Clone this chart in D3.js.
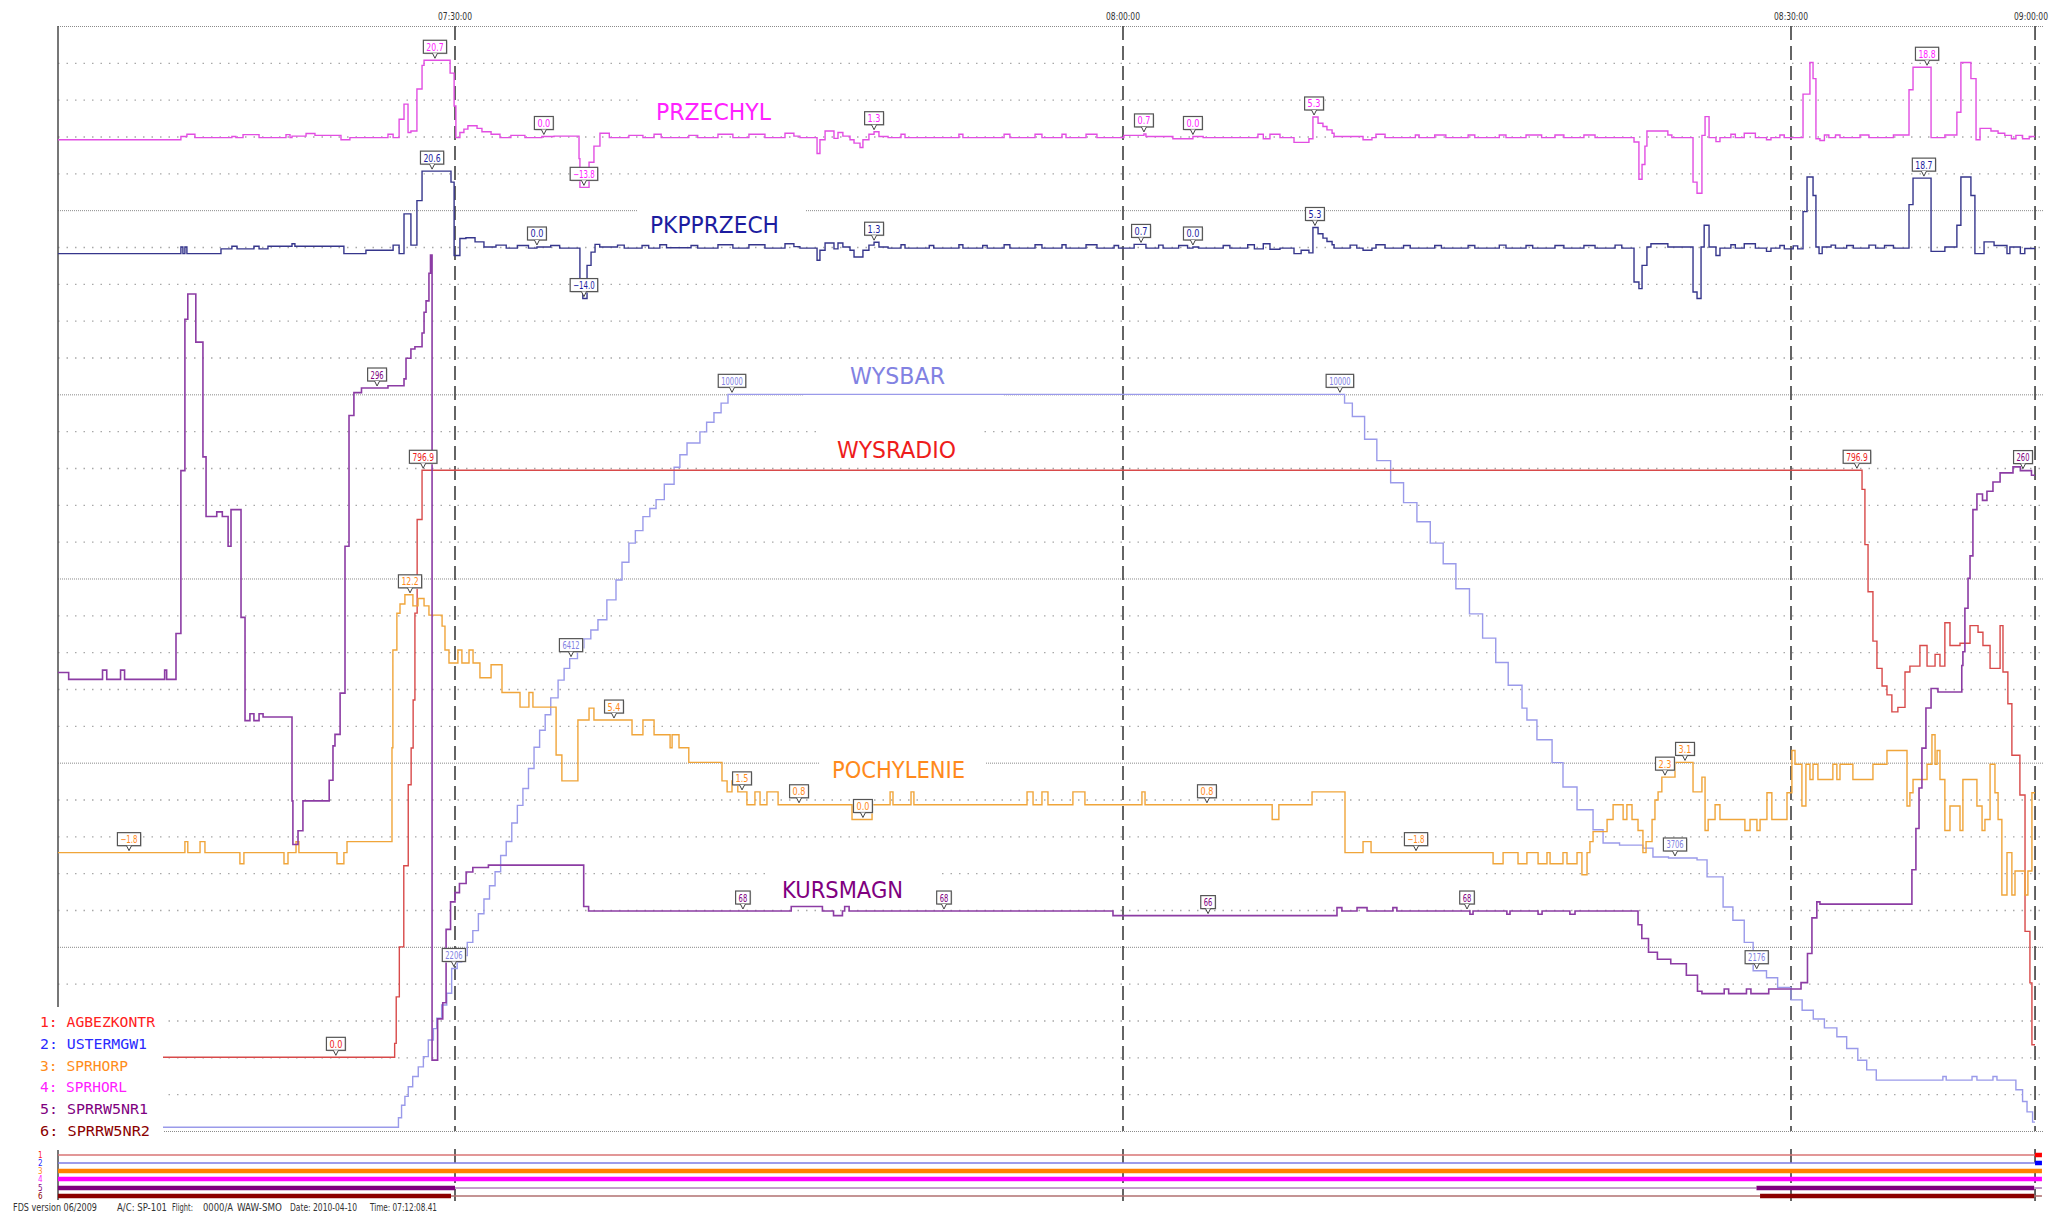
<!DOCTYPE html>
<html><head><meta charset="utf-8">
<script src="https://cdn.jsdelivr.net/npm/d3@7"></script>
<style>
html,body{margin:0;padding:0;background:#fff;}
svg{display:block;}
</style></head>
<body><svg id="chart" width="2057" height="1216"></svg>
<script>
// Times are minutes after 07:00:00; values are in each parameter's own unit.
const timeTicks = [30, 60, 90, 100.96];
const timeTickLabels = ["07:30:00", "08:00:00", "08:30:00", "09:00:00"];
const tStart = 12.17, tEnd = 100.96;

// PRZECHYL – roll angle [deg]
const przechyl = [
[12.17,-0.9],[17.69,0.0],[17.96,0.6],[18.32,-0.3],[19.98,0.0],[20.16,-0.3],[20.48,0.5],[21.20,-0.3],[22.41,0.5],[22.59,-0.3],[22.68,0.1],[23.31,0.8],[23.71,0.3],[24.88,-0.9],[25.28,-0.3],[26.99,0.6],[27.22,-0.3],[27.49,4.7],[27.71,8.8],[27.89,1.1],[28.02,1.5],[28.29,12.9],[28.52,19.3],[28.61,20.7],[29.78,17.2],[29.96,8.3],[30.04,-0.3],[30.22,1.1],[30.40,2.0],[30.58,2.9],[30.99,2.2],[31.21,1.3],[31.62,0.6],[32.02,-0.3],[32.51,0.3],[33.14,-0.3],[33.9,0.0],[34.45,0.1],[35.57,-6.0],[35.61,-13.8],[36.02,-7.0],[36.24,-2.6],[36.51,0.9],[36.93,-0.3],[37.81,0.3],[38.44,-0.3],[38.94,0.6],[39.26,-0.3],[40.5,0.3],[40.9,-0.3],[41.81,0.6],[42.48,-0.3],[43.20,0.6],[43.92,-0.3],[44.82,0.9],[45.22,0.1],[45.49,-0.3],[46.26,-4.6],[46.39,-0.9],[46.62,1.5],[47.02,-0.5],[47.20,1.1],[47.42,0.1],[47.74,-0.9],[47.92,-1.8],[48.19,-3.0],[48.32,-0.9],[48.59,0.6],[48.82,1.3],[49.04,0.0],[49.45,-0.3],[50.03,0.6],[50.21,-0.3],[52.63,0.6],[52.81,-0.3],[54.66,0.6],[54.92,-0.3],[56.05,0.6],[56.36,-0.3],[57.26,0.6],[57.44,-0.3],[58.34,0.6],[58.83,-0.3],[60.04,0.3],[60.94,0.7],[61.03,0.0],[62.24,-0.6],[63.14,0.0],[63.6,-0.3],[66.06,0.6],[66.3,-0.6],[66.6,0.6],[67.05,-0.3],[67.68,-1.6],[68.35,-0.6],[68.53,5.3],[68.76,3.6],[68.98,2.7],[69.16,1.8],[69.39,0.9],[69.48,0.0],[70.78,-0.9],[71.18,-0.3],[71.36,0.6],[71.77,-0.3],[73.13,0.4],[73.3,-0.3],[74.0,0.4],[74.5,-0.3],[75.5,0.4],[75.8,-0.3],[76.9,0.4],[77.2,-0.3],[78.1,0.4],[78.8,-0.3],[79.4,0.4],[79.8,-0.3],[80.7,0.4],[81.2,-0.3],[82.95,-1.5],[83.17,-11.6],[83.31,-7.6],[83.44,-2.6],[83.53,1.5],[84.47,0.4],[84.65,-0.3],[85.60,-12.4],[85.78,-15.4],[86.00,0.3],[86.14,5.4],[86.32,-0.3],[86.63,-1.4],[86.81,-0.3],[87.3,0.6],[87.5,-0.3],[87.9,0.9],[88.4,-0.3],[88.9,-0.9],[89.1,-0.3],[89.5,0.4],[89.7,-0.3],[90.54,11.5],[90.85,20.1],[90.99,15.7],[91.12,-0.6],[91.3,-1.1],[91.5,0.4],[91.7,-0.3],[92.0,0.4],[92.2,-0.3],[93.1,0.4],[93.5,-0.3],[94.6,0.4],[95.30,12.7],[95.48,18.8],[96.29,-0.3],[96.91,0.4],[97.45,6.6],[97.63,20.1],[98.08,15.7],[98.31,-0.9],[98.49,2.2],[98.98,1.5],[99.3,0.9],[99.6,0.3],[99.9,-0.6],[100.1,0.3],[100.4,-0.6],[100.7,0.0]
];
const przechylMarks = [[29.10,20.7],[33.99,0.0],[35.79,-13.8],[48.82,1.3],[60.94,0.7],[63.14,0.0],[68.58,5.3],[96.11,18.8]];

// PKPPRZECH – roll angle, second source [deg]
const pkpprzech = [
[12.17,-1.8],[17.69,0.0],[17.78,-1.8],[17.87,0.0],[17.96,-1.8],[19.49,-0.5],[19.98,0.2],[20.21,-0.5],[20.97,0.2],[21.20,-0.5],[21.60,0.2],[22.68,0.9],[22.81,0.2],[25.01,-1.8],[26.0,-0.9],[27.22,0.5],[27.49,-1.8],[27.71,9.0],[28.02,0.5],[28.29,12.6],[28.52,20.6],[29.82,17.6],[29.96,-2.3],[30.22,2.3],[30.49,2.5],[30.90,1.4],[31.30,0.0],[31.84,0.5],[32.3,-0.3],[32.8,0.4],[33.3,-0.3],[33.68,0.0],[34.3,0.4],[34.7,-0.3],[35.61,-11.3],[35.74,-14.0],[35.93,-5.0],[36.11,-1.4],[36.29,0.7],[36.5,0.0],[37.3,0.5],[37.6,-0.3],[38.4,0.4],[38.7,-0.3],[39.2,0.6],[39.5,-0.2],[40.6,0.4],[40.9,-0.3],[41.81,0.6],[42.48,-0.3],[43.20,0.6],[43.92,-0.3],[44.82,0.9],[45.22,0.1],[45.49,-0.3],[46.26,-3.6],[46.39,-0.9],[46.62,1.1],[47.02,-0.5],[47.20,1.1],[47.42,0.0],[47.74,-0.9],[47.92,-2.7],[48.32,-0.9],[48.59,0.5],[48.82,1.3],[49.04,0.0],[49.45,-0.3],[50.03,0.6],[50.21,-0.3],[51.3,0.4],[51.5,-0.3],[52.63,0.6],[52.81,-0.3],[53.7,0.4],[53.9,-0.3],[54.66,0.6],[54.92,-0.3],[56.05,0.6],[56.36,-0.3],[57.26,0.6],[57.44,-0.3],[58.34,0.6],[58.83,-0.3],[59.6,0.4],[59.8,-0.3],[60.5,0.7],[61.03,-0.3],[61.6,0.5],[61.8,-0.3],[62.5,0.4],[62.9,-0.3],[63.14,0.0],[63.4,-0.3],[64.5,0.4],[64.8,-0.3],[65.6,0.6],[65.9,-0.5],[66.3,0.9],[66.6,-0.6],[67.05,-0.3],[67.68,-1.8],[68.0,-0.9],[68.35,-1.6],[68.53,5.3],[68.76,3.6],[68.98,2.4],[69.16,1.5],[69.39,0.6],[69.48,-0.3],[70.2,0.5],[70.5,-0.3],[70.78,-0.9],[71.18,-0.3],[71.36,0.6],[71.77,-0.3],[72.6,0.4],[72.9,-0.3],[74.0,0.4],[74.3,-0.3],[75.5,0.4],[75.8,-0.3],[76.9,0.5],[77.2,-0.3],[78.1,0.4],[78.4,-0.3],[79.4,0.4],[79.8,-0.3],[80.7,0.4],[81.2,-0.3],[82.1,0.5],[82.4,-0.3],[82.95,-9.5],[83.17,-11.3],[83.31,-5.0],[83.53,0.0],[83.71,0.9],[84.47,0.0],[85.60,-12.2],[85.78,-14.0],[85.96,0.0],[86.10,5.9],[86.32,0.0],[86.63,-2.3],[86.81,-0.3],[87.3,0.6],[87.5,-0.3],[87.9,0.9],[88.4,-0.3],[88.9,-1.2],[89.1,-0.3],[89.5,0.4],[89.7,-0.5],[90.1,0.3],[90.3,-0.5],[90.54,9.6],[90.72,19.0],[90.99,14.0],[91.12,0.0],[91.26,-1.8],[91.4,0.0],[91.8,0.5],[92.0,-0.3],[92.5,0.4],[92.8,-0.3],[93.5,0.5],[93.8,-0.3],[94.2,0.4],[94.6,-0.3],[95.30,11.5],[95.48,18.7],[96.29,-1.2],[96.91,0.0],[97.45,5.9],[97.63,19.0],[98.08,14.0],[98.26,-1.8],[98.67,1.4],[99.12,0.4],[99.70,-1.8],[99.83,0.0],[100.3,-1.8],[100.5,-0.4]
];
const pkpprzechMarks = [[28.97,20.6],[33.68,0.0],[35.79,-14.0],[48.82,1.3],[60.81,0.7],[63.14,0.0],[68.62,5.3],[95.97,18.7]];

// WYSBAR – barometric altitude
const wysbar = [
[12.17,50],[27.46,180],[27.6,350],[27.75,470],[27.9,600],[28.1,740],[28.35,870],[28.58,1010],[28.8,1235],[29.03,1390],[29.18,1530],[29.4,1710],[29.63,1870],[29.85,2206],[30.1,2290],[30.3,2380],[30.55,2560],[30.8,2720],[31.05,2950],[31.3,3150],[31.55,3330],[31.8,3520],[32.05,3740],[32.3,3930],[32.55,4180],[32.8,4420],[33.05,4650],[33.3,4920],[33.55,5210],[33.8,5440],[34.05,5650],[34.3,5880],[34.63,6120],[34.9,6280],[35.15,6412],[35.5,6560],[35.79,6680],[36.1,6800],[36.42,6940],[36.82,7210],[37.23,7480],[37.5,7720],[37.81,7980],[38.1,8150],[38.44,8340],[38.75,8450],[39.03,8570],[39.4,8780],[39.84,9010],[40.1,9180],[40.42,9340],[41.0,9490],[41.3,9620],[41.63,9750],[41.95,9880],[42.26,10000],[69.95,9880],[70.3,9700],[70.85,9390],[71.4,9100],[72.02,8800],[72.6,8530],[73.2,8270],[73.8,7980],[74.38,7700],[74.95,7360],[75.56,7020],[76.15,6690],[76.74,6360],[77.3,6050],[77.92,5740],[78.14,5580],[78.59,5310],[79.27,5000],[79.76,4670],[80.39,4360],[81.11,4090],[81.56,3910],[82.3,3880],[83.35,3840],[83.8,3720],[84.5,3706],[85.78,3680],[86.23,3450],[86.95,3040],[87.39,2860],[87.9,2560],[88.3,2176],[88.9,2080],[89.4,1950],[90.0,1780],[90.5,1640],[91.0,1520],[91.5,1400],[92.06,1280],[92.5,1120],[93.0,960],[93.4,830],[93.83,690],[96.82,740],[96.97,690],[98.13,740],[98.35,690],[99.07,740],[99.25,690],[100.1,560],[100.4,400],[100.6,260],[100.85,120]
];
const wysbarMarks = [[29.95,2206],[35.21,6412],[42.44,10000],[69.74,10000],[84.79,3706],[88.46,2176]];

// WYSRADIO – radio altitude
const wysradio = [
[12.17,0],[27.29,19],[27.36,82],[27.5,150],[27.7,260],[27.9,370],[28.03,420],[28.12,485],[28.2,603],[28.3,730],[28.52,796.9],[93.19,771],[93.32,696],[93.46,632],[93.68,565],[93.86,528],[94.09,504],[94.31,492],[94.53,469],[94.80,475],[95.12,523],[95.34,531],[95.79,559],[96.11,531],[96.47,547],[96.69,531],[96.91,590],[97.14,559],[97.59,562],[98.04,586],[98.40,577],[98.62,559],[98.94,528],[99.39,586],[99.52,523],[99.74,480],[99.92,410],[100.28,356],[100.51,171],[100.73,101],[100.82,17]
];
const wysradioMarks = [[24.65,0.0],[28.57,796.9],[92.96,796.9]];

// POCHYLENIE – pitch angle [deg]
const pochylenie = [
[12.17,-1.8],[17.87,-1.2],[18.0,-1.8],[18.55,-1.2],[18.77,-1.8],[20.34,-2.4],[20.52,-1.8],[22.32,-2.4],[22.50,-1.8],[22.86,-1.2],[22.99,-1.8],[24.70,-2.4],[25.01,-1.8],[25.15,-1.2],[27.17,3.9],[27.21,9.2],[27.39,11.2],[27.53,11.7],[27.75,12.2],[28.11,11.6],[28.34,12.0],[28.61,11.6],[28.83,11.1],[29.42,10.5],[29.55,9.2],[29.73,8.5],[30.13,9.2],[30.31,8.5],[30.63,9.2],[30.81,8.5],[31.12,7.7],[31.62,8.4],[32.11,6.9],[32.92,6.1],[33.32,6.9],[33.50,6.1],[34.54,3.5],[34.8,2.1],[35.52,5.4],[36.02,6.05],[36.24,5.4],[37.95,4.6],[38.44,5.4],[38.94,4.6],[39.66,3.9],[39.75,4.6],[40.06,3.9],[40.5,3.1],[41.99,2.1],[42.22,1.5],[42.44,2.1],[42.7,1.5],[43.11,0.8],[43.47,1.5],[43.70,0.8],[44.01,1.5],[44.51,0.8],[47.83,0.0],[48.73,0.8],[49.54,1.5],[49.67,0.8],[50.48,1.5],[50.61,0.8],[55.69,1.5],[55.96,0.8],[56.36,1.5],[56.63,0.8],[57.75,1.5],[58.29,0.8],[60.85,1.5],[60.99,0.8],[66.7,0.0],[67.0,0.8],[68.49,1.5],[69.97,-1.8],[70.78,-1.2],[71.14,-1.8],[76.62,-2.4],[77.07,-1.8],[77.74,-2.4],[78.14,-1.8],[78.64,-2.4],[79.04,-1.8],[79.18,-2.4],[79.76,-1.8],[79.94,-2.4],[80.39,-1.8],[80.61,-3.0],[80.84,-1.8],[80.97,-1.2],[81.11,-0.66],[81.74,0.0],[82.01,0.8],[82.46,0.0],[82.63,0.8],[82.86,0.0],[83.13,-0.6],[83.35,-1.8],[83.49,-1.2],[83.76,0.0],[83.89,1.06],[84.03,1.5],[84.20,2.3],[84.79,3.1],[85.60,1.5],[86.00,2.3],[86.14,-0.6],[86.28,0.0],[86.59,0.8],[86.81,0.0],[87.93,-0.6],[88.16,0.0],[88.47,-0.6],[88.61,0.0],[88.92,1.45],[89.14,0.0],[89.82,1.45],[90.04,3.75],[90.18,3.0],[90.49,0.73],[90.67,3.0],[90.85,2.17],[90.99,3.0],[91.21,2.17],[91.88,3.0],[92.06,2.17],[92.20,3.0],[92.78,2.17],[93.68,3.0],[94.31,3.75],[95.21,0.73],[95.34,1.45],[95.48,2.17],[96.11,3.0],[96.33,4.6],[96.47,3.0],[96.56,3.75],[96.69,2.17],[96.91,-0.6],[97.14,0.73],[97.59,-0.6],[97.72,2.17],[98.35,0.73],[98.58,-0.6],[98.71,0.0],[98.94,3.0],[99.16,1.45],[99.30,0.0],[99.47,-4.1],[99.70,-1.8],[99.92,-4.1],[100.06,-2.8],[100.51,-4.1],[100.64,-2.8],[100.82,1.45]
];
const pochylenieMarks = [[15.36,-1.8],[27.98,12.2],[37.14,5.4],[42.89,1.5],[45.45,0.8],[48.32,0.0],[63.77,0.8],[73.16,-1.8],[84.34,2.3],[85.24,3.1]];

// KURSMAGN – magnetic heading [deg], wraps at 360
const kursmagn = [
[12.17,172],[12.65,169],[14.17,173],[14.36,169],[14.98,173],[15.16,169],[16.96,173],[17.05,169],[17.47,189],[17.69,260],[17.87,326],[18.0,337],[18.36,316],[18.68,266],[18.82,240],[19.3,242],[19.55,240],[19.81,227],[19.94,243],[20.39,196],[20.57,151],[20.79,154],[20.97,151],[21.2,154],[21.38,152.6],[22.68,116],[22.72,97],[22.95,103],[23.17,116],[24.35,125],[24.52,140],[24.61,145],[24.84,163],[25.06,227],[25.24,284],[25.46,294],[25.8,296],[26.99,297],[27.71,300],[27.80,309],[28.02,313],[28.20,314],[28.52,320],[28.61,329],[28.70,334],[28.83,346],[28.90,354],[28.97,3],[29.22,21],[29.45,28],[29.6,60],[29.8,72],[30.0,76],[30.2,80],[30.5,85],[30.8,87],[31.5,88],[35.78,70],[36.0,68],[45.1,70],[46.5,68],[47.0,66],[47.4,68],[47.5,70],[47.7,68],[59.55,66],[69.61,69.5],[69.83,68],[70.51,69.5],[70.96,68],[72.12,69.5],[72.30,68],[75.58,66.6],[75.72,68],[77.24,66.6],[77.38,68],[78.64,66.6],[78.82,68],[80.07,66.6],[80.30,68],[83.13,62],[83.3,56],[83.6,50],[84.0,47],[84.6,45],[85.3,40],[85.8,33],[86.0,32],[87.0,34],[87.2,32],[88.0,34],[88.2,32],[89.0,34],[90.45,36.8],[90.74,49.5],[90.94,65],[91.16,72],[91.3,71],[95.3,71],[95.43,86],[95.61,104],[95.75,121.6],[95.88,139],[96.06,156.5],[96.29,165],[96.6,163.5],[97.67,175],[97.72,181],[97.81,200],[97.95,213],[98.04,222.8],[98.17,243],[98.35,249.8],[98.6,247],[98.8,251],[99.07,255],[99.39,259],[99.97,261.6],[100.3,260],[100.8,258]
];
const kursmagnMarks = [[26.50,296],[42.93,68],[51.96,68],[63.82,66],[75.45,68],[100.42,260]];

// Discrete parameters in the lower strip: [from, to, state]
const stripNames = ["1: AGBEZKONTR","2: USTERMGW1","3: SPRHORP","4: SPRHORL","5: SPRRW5NR1","6: SPRRW5NR2"];
const agbezkontr = [[12.17,100.96,0],[100.96,101.27,1]];
const ustermgw1 = [[12.17,100.96,0],[100.96,101.27,1]];
const sprhorp = [[12.17,101.27,1]];
const sprhorl = [[12.17,101.27,1]];
const sprrw5nr1 = [[12.17,30.0,1],[30.0,88.45,0],[88.45,100.92,1],[100.92,101.27,0]];
const sprrw5nr2 = [[12.17,29.82,1],[29.82,88.61,0],[88.61,100.92,1],[100.92,101.27,0]];

const footerItems = [["FDS version 06/2009",13,84],["A/C: SP-101",117,50],["Flight:",172,21],["0000/A",203,30],["WAW-SMO",237,45],["Date: 2010-04-10",290,67],["Time: 07:12:08.41",370,67]];

// ---------------------------------------------------------------
const svg = d3.select("#chart");
const X0 = 58, X1 = 2035, Y0 = 26, GRID = 36.833, NGRID = 30;
const gy = k => Y0 + k * GRID;
const YB = gy(NGRID);
const narrow = "'Liberation Sans Narrow','DejaVu Sans Condensed','Liberation Sans',Arial,sans-serif";

const x = d3.scaleLinear().domain([30, 60]).range([455, 1123]);

const yRoll = d3.scaleLinear().domain([0, 30]).range([gy(3), gy(0)]);
const yPkp = d3.scaleLinear().domain([0, 30]).range([gy(6), gy(3)]);
const yBar = d3.scaleLinear().domain([0, 15000]).range([gy(30), gy(0)]);
const yRadio = d3.scaleLinear().domain([0, 1400]).range([gy(28), gy(0)]);
const yPitch = d3.scaleLinear().domain([0, 2]).range([819.5, 819.5 - GRID]);
const yHead = d3.scaleLinear().domain([0, 360]).range([1067, 241.2]);

const defs = svg.append("defs");
defs.append("clipPath").attr("id", "plotClip").append("rect")
  .attr("x", X0).attr("y", 0).attr("width", X1 - X0).attr("height", YB + 8);

// horizontal grid
const gridG = svg.append("g");
d3.range(0, NGRID + 1).forEach(k => {
  const major = k % 5 === 0;
  gridG.append("line")
    .attr("x1", X0).attr("x2", 2043).attr("y1", gy(k) + 0.5).attr("y2", gy(k) + 0.5)
    .attr("stroke", major ? "#8a8a8a" : "#a8a8a8")
    .attr("stroke-width", major ? 1 : 1.3)
    .attr("stroke-dasharray", major ? "1,1" : "1.5,7");
});

// left axis
svg.append("line").attr("x1", X0).attr("x2", X0).attr("y1", Y0).attr("y2", YB)
  .attr("stroke", "#555").attr("stroke-width", 1.6);

// dashed time markers (plot and strip)
timeTicks.forEach(t => {
  [[Y0, YB], [1149, 1201]].forEach(([a, b]) => {
    svg.append("line").attr("x1", x(t)).attr("x2", x(t)).attr("y1", a).attr("y2", b)
      .attr("stroke", "#4a4a4a").attr("stroke-width", 1.7).attr("stroke-dasharray", "14,6");
  });
});

// time labels (the last one sits at the right edge and is right-aligned)
timeTicks.forEach((t, i) => {
  const last = i === timeTicks.length - 1;
  svg.append("text").attr("x", last ? 2048 : x(t)).attr("y", 20)
    .attr("text-anchor", last ? "end" : "middle")
    .attr("font-family", narrow).attr("font-size", 10.5).attr("fill", "#333")
    .attr("textLength", 34).attr("lengthAdjust", "spacingAndGlyphs")
    .text(timeTickLabels[i]);
});

// series definitions
const series = [
  {name: "PRZECHYL", data: przechyl, marks: przechylMarks, y: yRoll, line: "#e24ee2", text: "#ff22ff", fmt: d3.format(".1f"),
   lx: 656, ly: 120, lw: 115, box: [643, 93, 169, 33]},
  {name: "PKPPRZECH", data: pkpprzech, marks: pkpprzechMarks, y: yPkp, line: "#36368c", text: "#1c1ca0", fmt: d3.format(".1f"),
   lx: 650, ly: 233, lw: 129, box: [638, 203, 167, 37]},
  {name: "WYSBAR", data: wysbar, marks: wysbarMarks, y: yBar, line: "#9a9aea", text: "#8282e2", fmt: d3.format("d"),
   lx: 850, ly: 384, lw: 95, box: [803, 360, 201, 37]},
  {name: "WYSRADIO", data: wysradio, marks: wysradioMarks, y: yRadio, line: "#d84a4a", text: "#ee1c1c", fmt: d3.format(".1f"),
   lx: 837, ly: 458, lw: 119, box: [818, 430, 160, 34]},
  {name: "POCHYLENIE", data: pochylenie, marks: pochylenieMarks, y: yPitch, line: "#f0a53a", text: "#ff8a1c", fmt: d3.format(".1f"),
   lx: 832, ly: 778, lw: 133, box: [820, 752, 165, 34]},
  {name: "KURSMAGN", data: kursmagn, marks: kursmagnMarks, y: yHead, line: "#8c3ca4", text: "#800080", fmt: d3.format("d"),
   lx: 782, ly: 898, lw: 121, box: [770, 866, 165, 36]}
];

// white panels behind parameter names
series.forEach(s => {
  svg.append("rect").attr("x", s.box[0]).attr("y", s.box[1]).attr("width", s.box[2]).attr("height", s.box[3]).attr("fill", "#fff");
});

// traces
const linesG = svg.append("g").attr("clip-path", "url(#plotClip)");
series.forEach(s => {
  const pts = s.data.concat([[tEnd, s.data[s.data.length - 1][1]]]);
  const gen = d3.line().x(d => x(d[0])).y(d => s.y(d[1])).curve(d3.curveStepAfter);
  linesG.append("path").attr("d", gen(pts)).attr("fill", "none")
    .attr("stroke", s.line).attr("stroke-width", s.name === "KURSMAGN" ? 1.6 : 1.4).attr("stroke-linejoin", "miter");
});

// parameter names
series.forEach(s => {
  svg.append("text").attr("x", s.lx).attr("y", s.ly).attr("font-family", narrow)
    .attr("font-size", 23).attr("fill", s.text)
    .attr("textLength", s.lw).attr("lengthAdjust", "spacingAndGlyphs").text(s.name);
});

// value callouts
const callG = svg.append("g");
series.forEach(s => {
  s.marks.forEach(([t, v]) => {
    const px = x(t), py = s.y(v);
    const txt = s.fmt(v);
    const tw = txt.length * 4.3;
    const bw = tw + 6, bh = 13;
    const g = callG.append("g");
    g.append("rect").attr("x", px - bw / 2 + 1).attr("y", py - 19).attr("width", bw).attr("height", bh)
      .attr("fill", "#d8d8d8");
    g.append("rect").attr("x", px - bw / 2).attr("y", py - 20).attr("width", bw).attr("height", bh)
      .attr("fill", "#fff").attr("stroke", "#555").attr("stroke-width", 1.2);
    g.append("path").attr("d", `M${px - 2.5},${py - 7}L${px},${py - 2}L${px + 2.5},${py - 7}`)
      .attr("fill", "#fff").attr("stroke", "#444").attr("stroke-width", 1);
    g.append("text").attr("x", px).attr("y", py - 9.5).attr("text-anchor", "middle")
      .attr("font-family", narrow).attr("font-size", 10).attr("fill", s.text)
      .attr("textLength", tw).attr("lengthAdjust", "spacingAndGlyphs").text(txt);
  });
});

// legend of discrete parameters
const legendColors = ["#ff2020", "#2a2aff", "#ff8c1a", "#ff1cff", "#800080", "#8b0000"];
const legendWidths = [115, 107, 88, 87, 108, 110];
svg.append("rect").attr("x", 0).attr("y", 1007).attr("width", 163).attr("height", 135).attr("fill", "#fff");
stripNames.forEach((n, i) => {
  svg.append("text").attr("x", 40).attr("y", 1027 + i * 21.8)
    .attr("font-family", "'DejaVu Sans Mono','Liberation Mono',monospace").attr("font-size", 14)
    .attr("fill", legendColors[i]).attr("textLength", legendWidths[i]).attr("lengthAdjust", "spacingAndGlyphs").text(n);
});

// lower strip of discrete states
const stripData = [agbezkontr, ustermgw1, sprhorp, sprhorl, sprrw5nr1, sprrw5nr2];
const stripY = [1155, 1163, 1171, 1179, 1188, 1196];
const stripThin = ["#d87474", "#7c7ce4", "#ff8000", "#ff00ff", "#b07cba", "#b07070"];
const stripThick = ["#ff0000", "#0000ff", "#ff8000", "#ff00ff", "#7e007e", "#8b0000"];
svg.append("line").attr("x1", X0).attr("x2", X0).attr("y1", 1150).attr("y2", 1200).attr("stroke", "#555").attr("stroke-width", 1.6);
stripData.forEach((segs, i) => {
  segs.forEach(([a, b, on]) => {
    svg.append("line").attr("x1", x(a)).attr("x2", x(b)).attr("y1", stripY[i]).attr("y2", stripY[i])
      .attr("stroke", on ? stripThick[i] : stripThin[i]).attr("stroke-width", on ? 4.5 : 1.6);
  });
  svg.append("text").attr("x", 38).attr("y", stripY[i] + 3).attr("font-family", narrow)
    .attr("font-size", 8).attr("fill", legendColors[i]).text(String(i + 1));
});

// footer
footerItems.forEach(([t, fx, w]) => {
  svg.append("text").attr("x", fx).attr("y", 1211).attr("font-family", narrow).attr("font-size", 10)
    .attr("fill", "#333").attr("textLength", w).attr("lengthAdjust", "spacingAndGlyphs").text(t);
});
</script>
</body></html>
